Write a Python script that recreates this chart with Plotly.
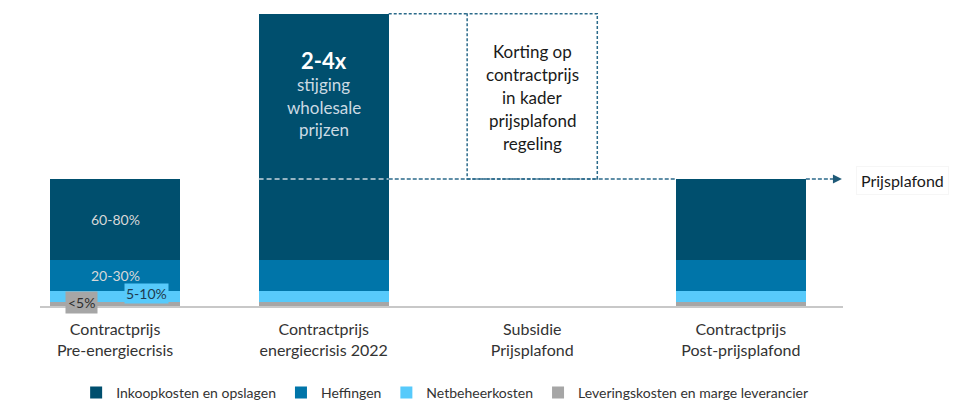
import plotly.graph_objects as go

categories = ["Contractprijs<br>Pre-energiecrisis", "Contractprijs<br>energiecrisis 2022",
              "Subsidie<br>Prijsplafond", "Contractprijs<br>Post-prijsplafond"]
series_names = ["Leveringskosten en marge leverancier", "Netbeheerkosten", "Heffingen",
                "Inkoopkosten en opslagen"]
levering = [3.5, 3.5, 0, 3.5]
netbeheer = [8, 8, 0, 8]
heffingen = [24.5, 24.5, 0, 24.5]
inkoop = [64, 194, 0, 64]
colors = ["#A6A6A6", "#57CAFB", "#0075A9", "#004F6E"]

share_labels = ["<5%", "5-10%", "20-30%", "60-80%"]
crisis_title = "2-4x"
crisis_lines = ["stijging", "wholesale", "prijzen"]
box_lines = ["Korting op", "contractprijs", "in kader", "prijsplafond", "regeling"]
plafond_label = "Prijsplafond"

series = [levering, netbeheer, heffingen, inkoop]
totals = [sum(s[i] for s in series) for i in range(len(categories))]
plafond = totals[3]
crisis_top = totals[1]
bw = 0.624
FONT = "Lato, 'Open Sans', sans-serif"

fig = go.Figure()
for name, vals, col in zip(series_names, series, colors):
    fig.add_trace(go.Bar(x=categories, y=vals, name=name, marker_color=col,
                         marker_line_width=0, width=bw, hoverinfo="skip"))

dark = "#2B6A8A"
shapes = [
    dict(type="rect", x0=2 - bw / 2, x1=2 + bw / 2, y0=plafond, y1=crisis_top,
         line=dict(color=dark, width=1.5, dash="3px,2px"), fillcolor="rgba(0,0,0,0)"),
    dict(type="line", x0=1 + bw / 2, x1=2 - bw / 2, y0=crisis_top, y1=crisis_top,
         line=dict(color=dark, width=1.5, dash="3px,2px")),
    dict(type="line", x0=1 - bw / 2, x1=1 + bw / 2, y0=plafond, y1=plafond,
         line=dict(color="#C9D6DE", width=1.5, dash="5px,3px")),
    dict(type="line", x0=1 + bw / 2, x1=3 - bw / 2, y0=plafond, y1=plafond,
         line=dict(color=dark, width=1.5, dash="4px,2px")),
    dict(type="line", x0=3 + bw / 2, x1=3.45, y0=plafond, y1=plafond,
         line=dict(color=dark, width=1.5, dash="4px,2px")),
]

ann = []
ann.append(dict(x=3.485, y=plafond, ax=3.44, ay=plafond, axref="x", ayref="y",
                xref="x", yref="y", text="", showarrow=True, arrowhead=2,
                arrowsize=1.2, arrowwidth=1.5, arrowcolor="#1F5A78", standoff=0))
ann.append(dict(x=0, y=levering[0] + netbeheer[0] + heffingen[0] + inkoop[0] / 2,
                text=share_labels[3], showarrow=False,
                font=dict(family=FONT, size=14, color="#D8D8D8")))
ann.append(dict(x=0, y=levering[0] + netbeheer[0] + heffingen[0] / 2,
                text=share_labels[2], showarrow=False,
                font=dict(family=FONT, size=14, color="#D8D8D8")))
ann.append(dict(x=-0.16, y=2.8, text=share_labels[0], showarrow=False,
                bgcolor="#A6A6A6", borderpad=2,
                font=dict(family=FONT, size=14, color="#2E2E2E")))
ann.append(dict(x=0.15, y=9.6, text=share_labels[1], showarrow=False,
                bgcolor="#57CAFB", borderpad=1,
                font=dict(family=FONT, size=14, color="#1E3A4F")))
ann.append(dict(x=1, y=193, text="<b>" + crisis_title + "</b>", showarrow=False,
                font=dict(family=FONT, size=22, color="#FFFFFF")))
for yv, t in zip([174, 156.5, 139], crisis_lines):
    ann.append(dict(x=1, y=yv, text=t, showarrow=False,
                    font=dict(family=FONT, size=17, color="#CCDAE3")))
for yv, t in zip([200, 182, 164, 146, 128], box_lines):
    ann.append(dict(x=2, y=yv, text=t, showarrow=False,
                    font=dict(family=FONT, size=17, color="#1A1A1A")))
ann.append(dict(xref="paper", yref="y", x=1.0162, y=plafond - 1, xanchor="left",
                text=plafond_label, showarrow=False, bgcolor="#FFFFFF",
                bordercolor="#F6F6F6", borderwidth=1, borderpad=4,
                font=dict(family=FONT, size=16, color="#1A1A1A")))

fig.update_layout(
    width=957, height=403,
    margin=dict(l=32, r=122, t=2, b=105, autoexpand=False),
    paper_bgcolor="white", plot_bgcolor="white",
    barmode="stack", bargap=0,
    shapes=shapes, annotations=ann,
    font=dict(family=FONT, size=14, color="#333333"),
    legend=dict(orientation="h", x=0.045, xanchor="left", y=18 / 403, yanchor="middle",
                yref="container",
                traceorder="reversed", font=dict(family=FONT, size=14, color="#333333"),
                itemclick=False),
    xaxis=dict(range=[-0.36, 3.49], showline=True, linecolor="#C8C8C8", linewidth=1.5,
               showgrid=False, ticks="", automargin=False, ticklabelstandoff=8,
               tickfont=dict(family=FONT, size=16, color="#333333"),
               fixedrange=True),
    yaxis=dict(range=[0, 233], visible=False, showgrid=False, fixedrange=True,
               automargin=False),
)
fig.write_html("out.html")
